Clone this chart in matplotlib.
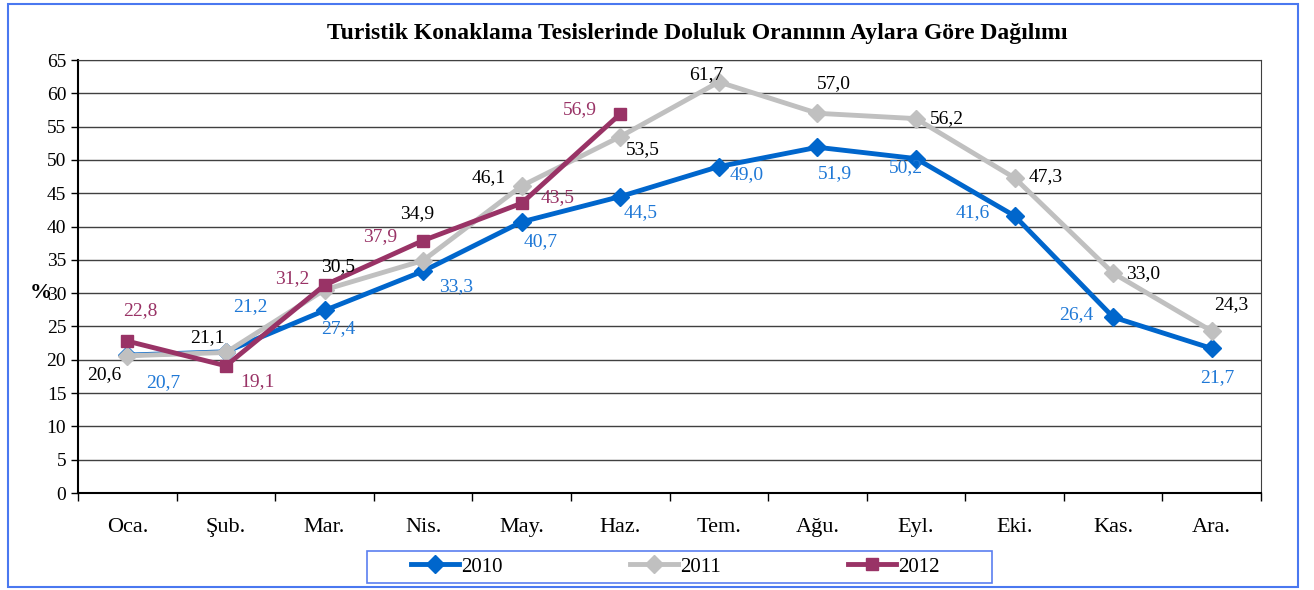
import matplotlib.pyplot as plt
from matplotlib.patches import Rectangle

plt.rcParams['font.family'] = ['Liberation Serif', 'DejaVu Serif']

aylar = ['Oca.', 'Şub.', 'Mar.', 'Nis.', 'May.', 'Haz.',
         'Tem.', 'Ağu.', 'Eyl.', 'Eki.', 'Kas.', 'Ara.']
y2010 = [20.7, 21.2, 27.4, 33.3, 40.7, 44.5, 49.0, 51.9, 50.2, 41.6, 26.4, 21.7]
y2011 = [20.6, 21.1, 30.5, 34.9, 46.1, 53.5, 61.7, 57.0, 56.2, 47.3, 33.0, 24.3]
y2012 = [22.8, 19.1, 31.2, 37.9, 43.5, 56.9]

# etiket kaydirmalari (piksel, sag / yukari)
off2010 = [(36, -27), (24, 45), (14, -18), (33, -15), (19, -20), (20, -16),
           (28, -8), (18, -26), (-10, -9), (-42, 3), (-37, 3), (6, -29)]
off2011 = [(-23, -19), (-19, 15), (14, 23), (-6, 47), (-33, 8), (23, -13),
           (-13, 7), (16, 30), (31, 0), (31, 1), (30, 0), (19, 27)]
off2012 = [(13, 31), (31, -16), (-32, 7), (-43, 4), (36, 6), (-40, 4)]

c2010, c2011, c2012 = '#0066CC', '#C0C0C0', '#993366'
t2010 = '#1F78D6'

fig = plt.figure(figsize=(13.14, 5.90), dpi=100)
ax = fig.add_axes([0.0594, 0.1644, 0.9003, 0.7339])

x = [i + 0.5 for i in range(12)]
ax.plot(x, y2010, color=c2010, lw=3.5, marker='D', ms=9, label='2010', zorder=3)
ax.plot(x, y2011, color=c2011, lw=3.5, marker='D', ms=9, label='2011', zorder=4)
ax.plot(x[:len(y2012)], y2012, color=c2012, lw=3.5, marker='s', ms=9, label='2012', zorder=5)


def etiketle(xs, ys, offs, color):
    for xi, yi, (dx, dy) in zip(xs, ys, offs):
        ax.annotate(f'{yi:.1f}'.replace('.', ','), (xi, yi), xytext=(dx, dy),
                    textcoords='offset pixels', ha='center', va='center',
                    fontsize=14, color=color, zorder=6)


etiketle(x, y2010, off2010, t2010)
etiketle(x, y2011, off2011, 'black')
etiketle(x[:len(y2012)], y2012, off2012, c2012)

ax.set_xlim(0, 12)
ax.set_ylim(0, 65)
ax.set_yticks(range(0, 66, 5))
ax.set_xticks(range(13))
ax.set_xticks(x, minor=True)
ax.set_xticklabels([])
ax.set_xticklabels(aylar, minor=True, fontsize=16)
ax.tick_params(axis='x', which='major', length=6, direction='out', width=1)
ax.tick_params(axis='x', which='minor', length=0, pad=18)
ax.tick_params(axis='y', length=5, width=1, labelsize=14)
ax.grid(axis='y', color='#404040', lw=1)
ax.set_axisbelow(True)
for s in ['top', 'right']:
    ax.spines[s].set_color('#404040')
for s in ['left', 'bottom']:
    ax.spines[s].set_linewidth(1.5)

fig.text(0.531, 0.944, 'Turistik Konaklama Tesislerinde Doluluk Oranının Aylara Göre Dağılımı',
         ha='center', va='center', fontsize=17, fontweight='bold')
fig.text(0.031, 0.503, '%', ha='center', va='center', fontsize=16, fontweight='bold')

fig.legend(loc='center', bbox_to_anchor=(0.514, 0.039), ncol=3, fontsize=15,
           handlelength=2.3, columnspacing=6.1, frameon=False,
           borderpad=0.2, handletextpad=0.1)
fig.patches.append(Rectangle((0.2793, 0.0119), 0.4757, 0.0542, transform=fig.transFigure,
                             fill=False, edgecolor='#5B7FF0', lw=1.2))

fig.patches.append(Rectangle((0.006, 0.005), 0.982, 0.988, transform=fig.transFigure,
                             fill=False, edgecolor='#4A78F0', lw=1.5))

fig.savefig('out.png', dpi=100)
